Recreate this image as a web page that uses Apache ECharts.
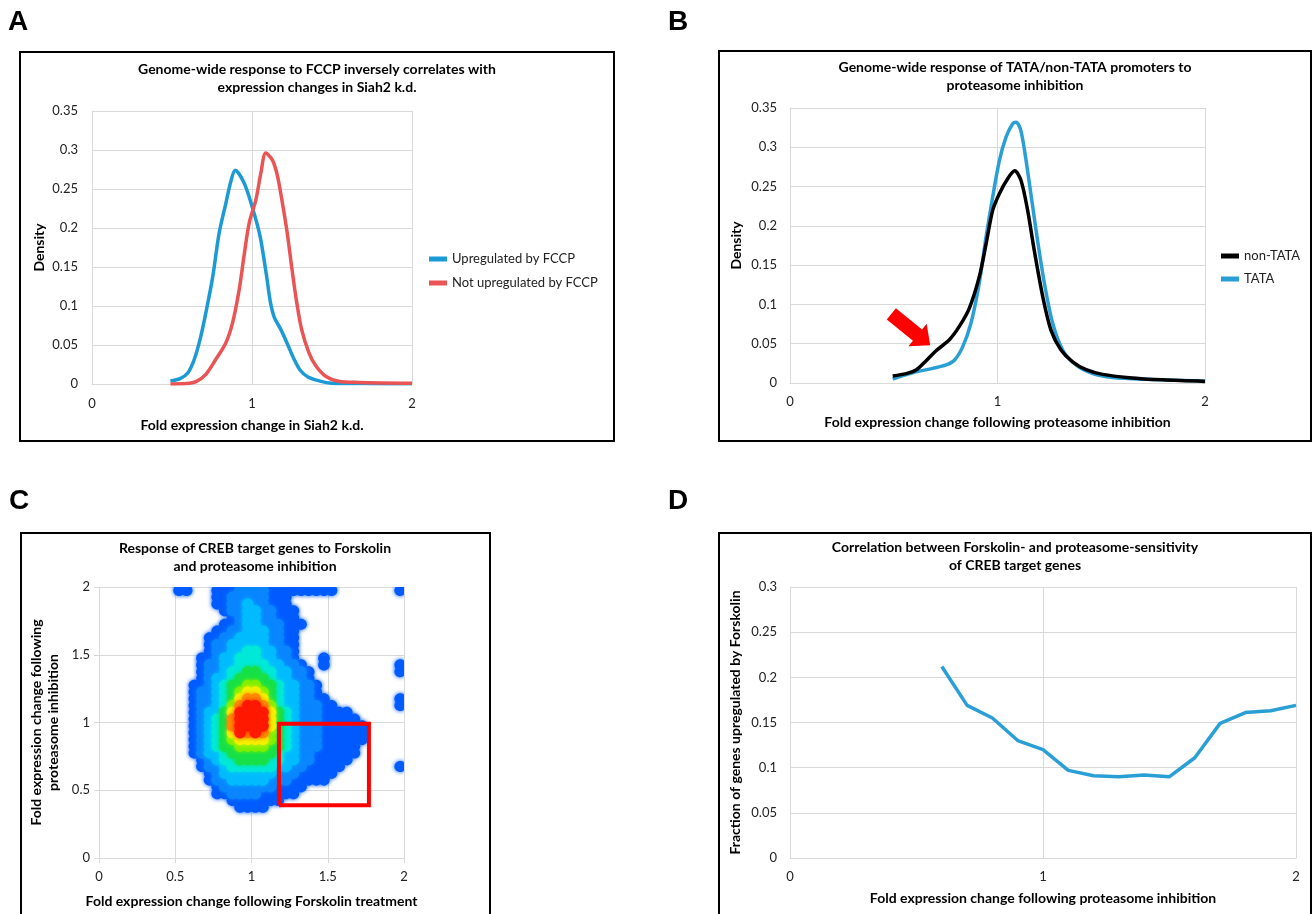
<!DOCTYPE html>
<html>
<head>
<meta charset="utf-8">
<title>Proteasome inhibition and CREB target genes</title>
<script src="https://cdn.jsdelivr.net/npm/echarts@6.0.0/dist/echarts.min.js"></script>
<style>
  html, body { margin: 0; padding: 0; background: #fff; }
  #chart { width: 1314px; height: 914px; }
</style>
</head>
<body>
<div id="chart"></div>
<script>
// A: density of Siah2 k.d. fold change
var aUpX = [0.49, 0.55, 0.60, 0.64, 0.68, 0.72, 0.755, 0.795, 0.837, 0.868, 0.895, 0.95, 1.0, 1.05, 1.09, 1.115, 1.14, 1.18, 1.22, 1.26, 1.30, 1.35, 1.42, 1.50, 1.70, 2.0]
var aUpY = [0.004, 0.007, 0.0145, 0.032, 0.061, 0.10, 0.138, 0.194, 0.232, 0.26, 0.274, 0.258, 0.228, 0.19, 0.14, 0.105, 0.085, 0.07, 0.052, 0.033, 0.018, 0.009, 0.004, 0.001, 0.0005, 0.0003]
var aNotX = [0.49, 0.59, 0.65, 0.71, 0.775, 0.837, 0.878, 0.92, 0.95, 0.982, 1.024, 1.055, 1.086, 1.128, 1.16, 1.19, 1.22, 1.25, 1.28, 1.31, 1.356, 1.40, 1.46, 1.54, 1.67, 2.0]
var aNotY = [0.0, 0.0005, 0.003, 0.012, 0.032, 0.053, 0.078, 0.121, 0.164, 0.206, 0.236, 0.27, 0.296, 0.287, 0.266, 0.232, 0.194, 0.147, 0.104, 0.07, 0.04, 0.023, 0.010, 0.0035, 0.002, 0.001]

// B: TATA / non-TATA promoters
var bNonX = [0.495, 0.56, 0.607, 0.655, 0.704, 0.768, 0.816, 0.864, 0.912, 0.945, 0.977, 1.009, 1.049, 1.083, 1.113, 1.145, 1.177, 1.218, 1.258, 1.306, 1.362, 1.427, 1.507, 1.635, 1.796, 2.0]
var bNonY = [0.009, 0.012, 0.0165, 0.028, 0.041, 0.055, 0.072, 0.095, 0.135, 0.177, 0.22, 0.241, 0.26, 0.27, 0.258, 0.22, 0.169, 0.11, 0.067, 0.042, 0.027, 0.017, 0.011, 0.0068, 0.004, 0.002]
var bTataX = [0.495, 0.591, 0.688, 0.752, 0.792, 0.832, 0.872, 0.912, 0.945, 0.977, 1.009, 1.041, 1.073, 1.089, 1.113, 1.145, 1.186, 1.226, 1.266, 1.314, 1.378, 1.459, 1.555, 1.716, 2.0]
var bTataY = [0.005, 0.013, 0.0186, 0.023, 0.029, 0.046, 0.076, 0.127, 0.186, 0.237, 0.283, 0.313, 0.33, 0.332, 0.321, 0.27, 0.194, 0.127, 0.076, 0.042, 0.023, 0.012, 0.007, 0.0047, 0.0025]
var arrowAt = [0.582, 0.068]

// C: density levels (1 low .. 9 high) on a 0.05 grid, row 0 = top (y 1.95-2.0)
// each entry: [first column, levels from that column on]
var cellSize = 0.05
var heatRows = [
  [10, '11000111' + '2222' + '111111111' + '00000000' + '1'],
  [15, '1122222111'],
  [15, '1122322111'],
  [16, '1223322111'],
  [17, '123322111'],
  [16, '11233222111'],
  [15, '11223332211'],
  [14, '112233332211'],
  [14, '122333332211'],
  [14, '122334433221'],
  [13, '1123344433221' + '000' + '1'],
  [13, '12233444433221' + '00' + '1' + '000000000' + '1'],
  [13, '122344554433221' + '00000000000' + '1'],
  [13, '123345555433221'],
  [12, '11234556655433221'],
  [12, '12234567765433221'],
  [12, '122345788754332211' + '000000000' + '1'],
  [12, '1223468998643322211' + '00000000' + '1'],
  [12, '123357999975432221111'],
  [12, '1234589999754322211111'],
  [12, '12345899997543222111111'],
  [12, '12345798986543222111111'],
  [12, '12345677776543222111111'],
  [12, '1234556666554322211111'],
  [12, '1233455555543322111111'],
  [13, '12344555544332211111'],
  [13, '1223444444332211111' + '0000000' + '1'],
  [14, '12333333322211111'],
  [14, '1223333322211111'],
  [15, '122222221111'],
  [15, '11222211111'],
  [17, '1111111'],
  [18, '1111']
]
var cBoxX = [1.18, 1.77, 1.77, 1.18, 1.18]
var cBoxY = [0.39, 0.39, 0.99, 0.99, 0.39]

// D: fraction upregulated by Forskolin
var dX = [0.6, 0.7, 0.8, 0.9, 1.0, 1.1, 1.2, 1.3, 1.4, 1.5, 1.6, 1.7, 1.8, 1.9, 2.0]
var dY = [0.212, 0.169, 0.155, 0.130, 0.120, 0.097, 0.091, 0.090, 0.092, 0.090, 0.111, 0.149, 0.161, 0.163, 0.169]

var jet = ['#005cff', '#0a86ff', '#00bcff', '#00e8d8', '#18e048', '#7ef000', '#f4f000', '#ff8a00', '#ff1a00']
var gridColor = '#d9d9d9'
var font = 'Lato'

function pairs(xs, ys) {
  return xs.map(function(x, i) { return [x, ys[i]] })
}

var heatData = []
heatRows.forEach(function(row, r) {
  var start = row[0]
  var levels = row[1]
  for (var i = 0; i < levels.length; i++) {
    var v = +levels[i]
    if (v > 0) heatData.push([(start + i + 0.5) * cellSize, 2 - (r + 0.5) * cellSize, v])
  }
})
// low levels first so the hot core is painted on top
heatData.sort(function(a, b) { return a[2] - b[2] })

function axis(grid, max, interval, name, nameGap, margin, ticks) {
  return {
    type: 'value',
    gridIndex: grid,
    min: 0,
    max: max,
    interval: interval,
    name: name,
    nameLocation: 'middle',
    nameGap: nameGap,
    nameTextStyle: { fontFamily: font, fontWeight: 'bold', fontSize: 14, color: '#000', lineHeight: 17 },
    axisLine: { show: true, lineStyle: { color: gridColor } },
    axisTick: { show: !!ticks, length: 5, lineStyle: { color: gridColor } },
    axisLabel: { margin: margin, fontFamily: font, fontSize: 13, color: '#222' },
    splitLine: { show: true, lineStyle: { color: gridColor } }
  }
}

function title(text, x, top) {
  return {
    text: text,
    left: x,
    top: top,
    padding: 0,
    textAlign: 'center',
    textStyle: { fontFamily: font, fontWeight: 'bold', fontSize: 14, lineHeight: 18, color: '#000' }
  }
}

function panelLetter(ch, x, y) {
  return { type: 'text', x: x, y: y, style: { text: ch, fontFamily: 'Liberation Sans', fontWeight: 'bold', fontSize: 28, fill: '#000', verticalAlign: 'middle' } }
}

function box(x, y, w, h) {
  return { type: 'rect', shape: { x: x, y: y, width: w, height: h }, style: { fill: 'none', stroke: '#000', lineWidth: 2 } }
}

function curve(name, grid, xs, ys, color, z) {
  return {
    name: name,
    type: 'line',
    xAxisIndex: grid,
    yAxisIndex: grid,
    data: pairs(xs, ys),
    smooth: 0.3,
    showSymbol: false,
    color: color,
    lineStyle: { width: 3.5 },
    z: z
  }
}

var chart = echarts.init(document.getElementById('chart'))

var nonTata = curve('non-TATA', 1, bNonX, bNonY, '#000', 4)
nonTata.markPoint = {
  silent: true,
  label: { show: false },
  data: [{
    coord: arrowAt,
    symbol: 'path://M0,7 L33,7 L33,0 L49,14 L33,28 L33,21 L0,21 Z',
    symbolSize: [50, 29],
    symbolRotate: -39,
    itemStyle: { color: '#ff0000' }
  }]
}

chart.setOption({
  animation: false,
  backgroundColor: '#fff',
  title: [
    title('Genome-wide response to FCCP inversely correlates with\nexpression changes in Siah2 k.d.', 317, 60),
    title('Genome-wide response of TATA/non-TATA promoters to\nproteasome inhibition', 1015, 58),
    title('Response of CREB target genes to Forskolin\nand proteasome inhibition', 255, 539),
    title('Correlation between Forskolin- and proteasome-sensitivity\nof CREB target genes', 1015, 538)
  ],
  graphic: [
    panelLetter('A', 8, 22),
    panelLetter('B', 668, 22),
    panelLetter('C', 9, 501),
    panelLetter('D', 668, 501),
    box(20, 52, 594, 389),
    box(719, 51, 592, 390),
    box(21, 533, 469, 420),
    box(719, 533, 592, 420)
  ],
  legend: [
    {
      data: ['Upregulated by FCCP', 'Not upregulated by FCCP'],
      orient: 'vertical',
      left: 429,
      top: 252,
      padding: 0,
      itemWidth: 18,
      itemHeight: 5,
      itemGap: 10,
      icon: 'rect',
      textStyle: { fontFamily: font, fontSize: 13, color: '#222', lineHeight: 14 }
    },
    {
      data: ['non-TATA', 'TATA'],
      orient: 'vertical',
      left: 1221,
      top: 249,
      padding: 0,
      itemWidth: 18,
      itemHeight: 5,
      itemGap: 9,
      icon: 'rect',
      textStyle: { fontFamily: font, fontSize: 13, color: '#222', lineHeight: 14 }
    }
  ],
  grid: [
    { left: 92, top: 111, width: 320, height: 273 },
    { left: 790, top: 108, width: 415, height: 275 },
    { left: 99, top: 587, width: 305, height: 271 },
    { left: 790, top: 587, width: 506, height: 271 }
  ],
  xAxis: [
    axis(0, 2, 1, 'Fold expression change in Siah2 k.d.', 33, 13),
    axis(1, 2, 1, 'Fold expression change following proteasome inhibition', 31, 12),
    axis(2, 2, 0.5, 'Fold expression change following Forskolin treatment', 35, 12, true),
    axis(3, 2, 1, 'Fold expression change following proteasome inhibition', 32, 12)
  ],
  yAxis: [
    axis(0, 0.35, 0.05, 'Density', 43, 14),
    axis(1, 0.35, 0.05, 'Density', 45, 13),
    axis(2, 2, 0.5, 'Fold expression change following\nproteasome inhibition', 37, 9, true),
    axis(3, 0.3, 0.05, 'Fraction of genes upregulated by Forskolin', 46, 13)
  ],
  visualMap: {
    type: 'continuous',
    show: false,
    seriesIndex: 4,
    dimension: 2,
    min: 1,
    max: 9,
    inRange: { color: jet }
  },
  series: [
    curve('Upregulated by FCCP', 0, aUpX, aUpY, '#1b9ad6', 3),
    curve('Not upregulated by FCCP', 0, aNotX, aNotY, '#ea5455', 4),
    nonTata,
    curve('TATA', 1, bTataX, bTataY, '#2a9fd6', 3),
    {
      name: 'CREB density',
      type: 'custom',
      xAxisIndex: 2,
      yAxisIndex: 2,
      data: heatData,
      encode: { x: 0, y: 1 },
      clip: true,
      renderItem: function(params, api) {
        var p = api.coord([api.value(0), api.value(1)])
        var s = api.size([cellSize, cellSize])
        var c = api.visual('color')
        return {
          type: 'ellipse',
          shape: { cx: p[0], cy: p[1], rx: s[0] * 0.76, ry: s[1] * 0.82 },
          style: { fill: c, shadowBlur: 4, shadowColor: c }
        }
      }
    },
    {
      name: 'Selected region',
      type: 'line',
      xAxisIndex: 2,
      yAxisIndex: 2,
      data: pairs(cBoxX, cBoxY),
      showSymbol: false,
      color: '#ff0000',
      lineStyle: { width: 4, join: 'miter' },
      z: 5
    },
    {
      name: 'Fraction upregulated',
      type: 'line',
      xAxisIndex: 3,
      yAxisIndex: 3,
      data: pairs(dX, dY),
      showSymbol: false,
      color: '#2a9fd6',
      lineStyle: { width: 3.5, join: 'round' }
    }
  ]
})
</script>
</body>
</html>
